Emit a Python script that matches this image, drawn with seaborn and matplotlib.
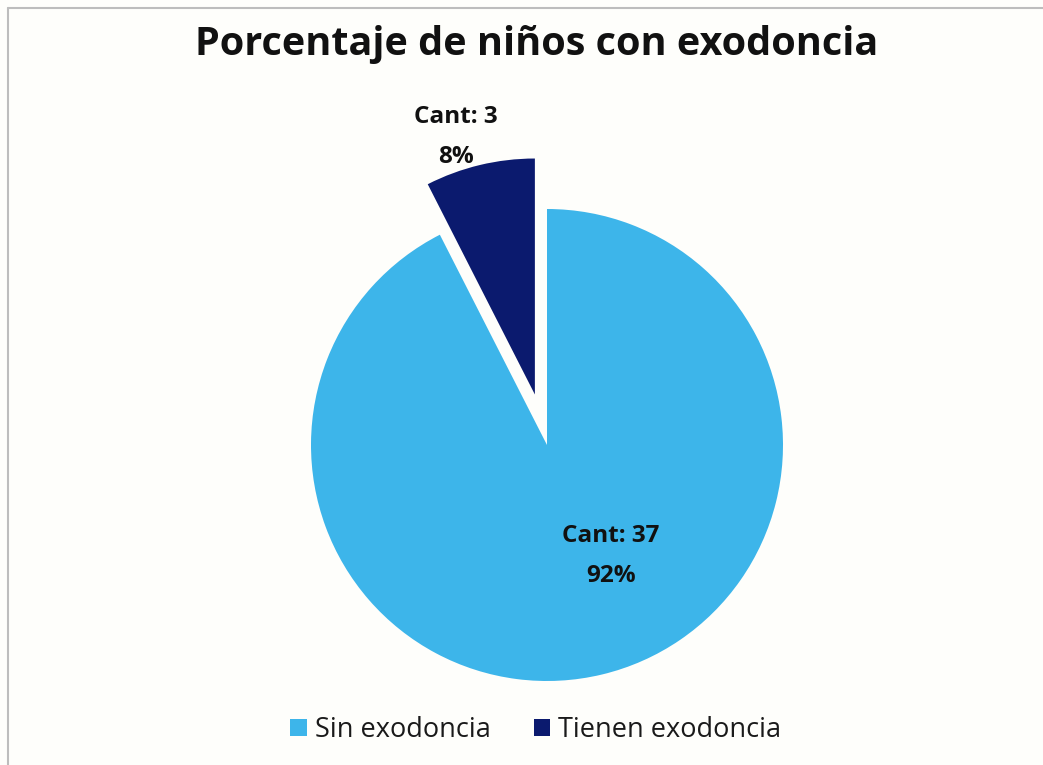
import matplotlib
matplotlib.use("Agg")
import matplotlib.pyplot as plt
from matplotlib.lines import Line2D
from matplotlib.patches import Patch
import seaborn as sns

# Data
categories = ["Sin exodoncia", "Tienen exodoncia"]
counts = [37, 3]
colors = ["#3DB5EA", "#0B1A6E"]
title = "Porcentaje de niños con exodoncia"

sns.set_theme(style="white")
plt.rcParams["font.family"] = ["Open Sans", "DejaVu Sans"]

W, H, DPI = 1043, 765, 100
fig = plt.figure(figsize=(W / DPI, H / DPI), dpi=DPI)
fig.patch.set_facecolor("#FEFEFB")

# Pie geometry in pixels: centre and radius
cx, cy, R = 547, 445, 236
lim = 1.3
half = lim * R
ax = fig.add_axes([(cx - half) / W, (H - cy - half) / H, 2 * half / W, 2 * half / H])
ax.patch.set_alpha(0)

total = sum(counts)
wedges, _ = ax.pie(
    counts,
    colors=colors,
    startangle=90,
    counterclock=False,
    explode=[0.0, 0.22],
    radius=1.0,
    wedgeprops=dict(linewidth=0),
)
ax.set_xlim(-lim, lim)
ax.set_ylim(-lim, lim)
ax.set_aspect("equal")
ax.axis("off")

# Data labels: count and percentage
label_pos = [(0.27, -0.47), (-0.386, 1.305)]
for (x, y), n in zip(label_pos, counts):
    pct = round(100 * n / total)
    ax.text(x, y + 0.085, f"Cant: {n}", ha="center", va="center",
            fontsize=17.5, fontweight="bold", color="#111111")
    ax.text(x, y - 0.085, f"{pct}%", ha="center", va="center",
            fontsize=17.5, fontweight="bold", color="#111111")

fig.text(537 / W, 1 - 45 / H, title, ha="center", va="center",
         fontsize=28.5, fontweight="bold", color="#111111")

handles = [Patch(facecolor=c, edgecolor="none") for c in colors]
fig.legend(handles, categories, loc="center", bbox_to_anchor=(536 / W, 1 - 730 / H),
           ncol=2, frameon=False, fontsize=19.5, handlelength=0.6, handleheight=0.6,
           handletextpad=0.3, columnspacing=1.6, labelcolor="#1A1A1A")

# Chart frame (top and left edges)
fig.add_artist(Line2D([8 / W, 1.0], [1 - 8 / H, 1 - 8 / H], color="#BDBDBD", lw=1.5))
fig.add_artist(Line2D([8 / W, 8 / W], [0.0, 1 - 8 / H], color="#BDBDBD", lw=1.5))

fig.savefig("out.png", dpi=DPI, facecolor=fig.get_facecolor())
